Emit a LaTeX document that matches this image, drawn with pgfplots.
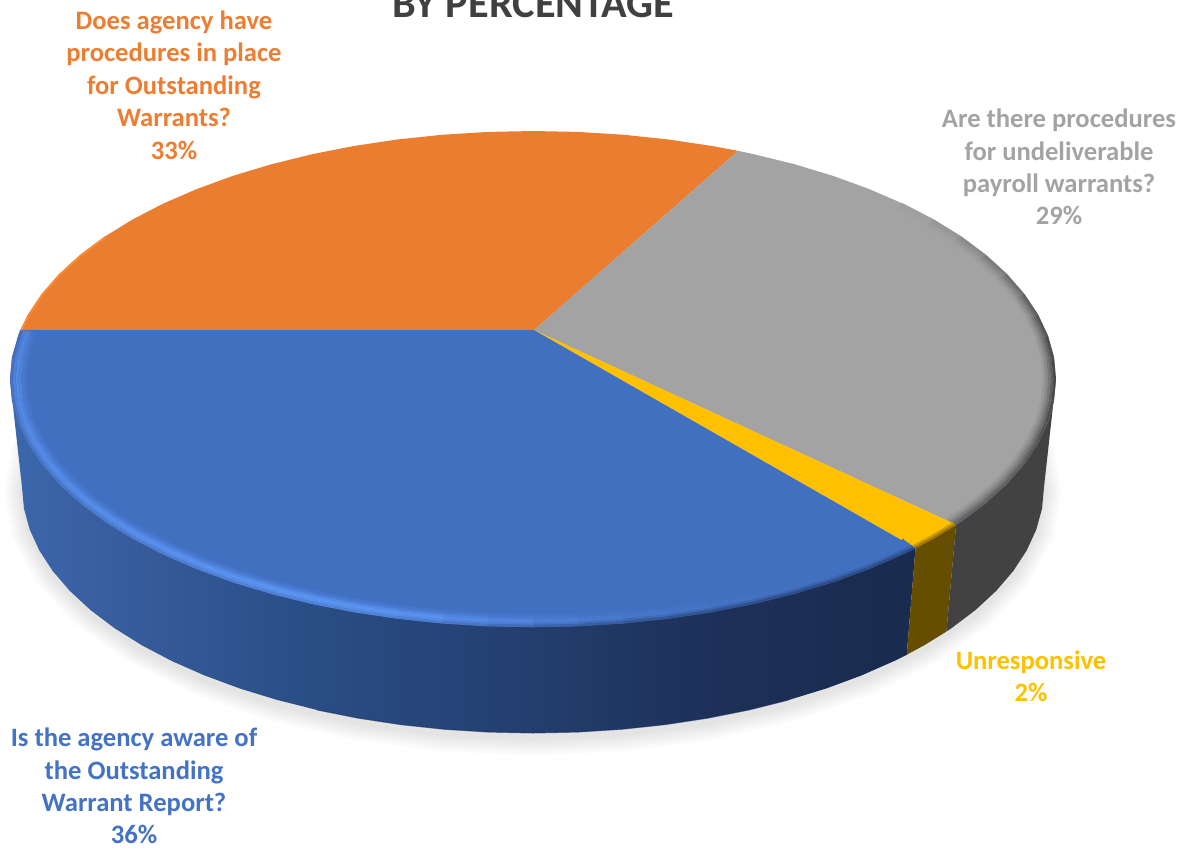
\documentclass[border=0pt]{standalone}
\usepackage{fontspec}
\usepackage{pgfplots}
\usepackage{pgfplotstable}
\pgfplotsset{compat=1.18}
\setmainfont{Carlito}

\definecolor{pieBlue}{RGB}{66,112,192}
\definecolor{pieOrange}{RGB}{235,125,49}
\definecolor{pieGray}{RGB}{163,163,163}
\definecolor{pieYellow}{RGB}{255,192,0}
\definecolor{labelBlue}{RGB}{68,114,196}
\definecolor{labelOrange}{RGB}{237,125,49}
\definecolor{titleGray}{RGB}{64,64,64}

% Side wall of the blue slice darkens from left to right
\pgfdeclarehorizontalshading{blueWall}{100bp}{
  rgb(0bp)=(0.235,0.404,0.675);
  rgb(25bp)=(0.235,0.404,0.675);
  rgb(33bp)=(0.212,0.353,0.596);
  rgb(41bp)=(0.165,0.306,0.529);
  rgb(54bp)=(0.137,0.243,0.431);
  rgb(63bp)=(0.114,0.192,0.353);
  rgb(74bp)=(0.098,0.169,0.306);
  rgb(100bp)=(0.098,0.169,0.306)}

% Slices of the top face: hub, then rim points on the unit ellipse
\pgfplotstableread{
c s
0.0019 -0.1976
-0.9803 -0.1976
-0.9848 -0.1736
-0.9962 -0.0872
-1 0
-0.9962 0.0872
-0.9848 0.1736
-0.9659 0.2588
-0.9397 0.3420
-0.9063 0.4226
-0.8660 0.5
-0.8192 0.5736
-0.7660 0.6428
-0.7071 0.7071
-0.6428 0.7660
-0.5736 0.8192
-0.5 0.8660
-0.4226 0.9063
-0.3420 0.9397
-0.2588 0.9659
-0.1736 0.9848
-0.0872 0.9962
0 1
0.0872 0.9962
0.1736 0.9848
0.2588 0.9659
0.3420 0.9397
0.4226 0.9063
0.5 0.8660
0.5736 0.8192
0.6428 0.7660
0.7071 0.7071
0.7314 0.6820
}\sliceBlue

\pgfplotstableread{
c s
0.0019 -0.1976
0.7314 0.6820
0.7660 0.6428
0.8090 0.5878
}\sliceYellow

\pgfplotstableread{
c s
0.0019 -0.1976
0.8090 0.5878
0.8192 0.5736
0.8660 0.5
0.9063 0.4226
0.9397 0.3420
0.9659 0.2588
0.9848 0.1736
0.9962 0.0872
1 0
0.9962 -0.0872
0.9848 -0.1736
0.9659 -0.2588
0.9397 -0.3420
0.9063 -0.4226
0.8660 -0.5
0.8192 -0.5736
0.7660 -0.6428
0.7071 -0.7071
0.6428 -0.7660
0.5736 -0.8192
0.5 -0.8660
0.4226 -0.9063
0.3923 -0.9198
}\sliceGray

\pgfplotstableread{
c s
0.0019 -0.1976
0.3923 -0.9198
0.3420 -0.9397
0.2588 -0.9659
0.1736 -0.9848
0.0872 -0.9962
0 -1
-0.0872 -0.9962
-0.1736 -0.9848
-0.2588 -0.9659
-0.3420 -0.9397
-0.4226 -0.9063
-0.5 -0.8660
-0.5736 -0.8192
-0.6428 -0.7660
-0.7071 -0.7071
-0.7660 -0.6428
-0.8192 -0.5736
-0.8660 -0.5
-0.9063 -0.4226
-0.9397 -0.3420
-0.9659 -0.2588
-0.9803 -0.1976
}\sliceOrange

% Side walls: b=0 is the top ellipse, b=1 the foot ellipse
\pgfplotstableread{
c s b
-1 0 0
0.7314 0.6820 0
0.7314 0.6820 1
0.7071 0.7071 1
0.6428 0.7660 1
0.5736 0.8192 1
0.5 0.8660 1
0.4226 0.9063 1
0.3420 0.9397 1
0.2588 0.9659 1
0.1736 0.9848 1
0.0872 0.9962 1
0 1 1
-0.0872 0.9962 1
-0.1736 0.9848 1
-0.2588 0.9659 1
-0.3420 0.9397 1
-0.4226 0.9063 1
-0.5 0.8660 1
-0.5736 0.8192 1
-0.6428 0.7660 1
-0.7071 0.7071 1
-0.7660 0.6428 1
-0.8192 0.5736 1
-0.8660 0.5 1
-0.9063 0.4226 1
-0.9397 0.3420 1
-0.9659 0.2588 1
-0.9848 0.1736 1
-0.9962 0.0872 1
-1 0 1
}\wallBlue

\pgfplotstableread{
c s b
0.7314 0.6820 0
0.8090 0.5878 0
0.8090 0.5878 1
0.7660 0.6428 1
0.7314 0.6820 1
}\wallYellow

\pgfplotstableread{
c s b
1 0 0
0.8090 0.5878 0
0.8090 0.5878 1
0.8192 0.5736 1
0.8660 0.5 1
0.9063 0.4226 1
0.9397 0.3420 1
0.9659 0.2588 1
0.9848 0.1736 1
0.9962 0.0872 1
1 0 1
}\wallGray

% Bevel along the rim; h is the strength of the bevel at that point
\pgfplotstableread{
c s h
-0.9803 -0.1976 0.60
-0.9962 -0.0872 0.65
-1 0 0.70
-0.9962 0.0872 0.72
-0.9848 0.1736 0.74
-0.9659 0.2588 0.76
-0.9397 0.3420 0.78
-0.9063 0.4226 0.80
-0.8660 0.5 0.82
-0.8192 0.5736 0.85
-0.7660 0.6428 0.88
-0.7071 0.7071 0.91
-0.6428 0.7660 0.94
-0.5736 0.8192 0.97
-0.5 0.8660 1
-0.4226 0.9063 1
-0.3420 0.9397 1
-0.2588 0.9659 1
-0.1736 0.9848 0.85
-0.0872 0.9962 0.70
0 1 0.50
0.0872 0.9962 0.35
0.1736 0.9848 0.25
0.2588 0.9659 0.15
0.3420 0.9397 0.10
0.4226 0.9063 0.05
0.5 0.8660 0
0.5736 0.8192 0
0.6428 0.7660 0
0.7071 0.7071 0
0.7314 0.6820 0
}\rimBlue

\pgfplotstableread{
c s h
0.8090 0.5878 0.70
0.8660 0.5 0.70
0.9063 0.4226 0.72
0.9397 0.3420 0.75
0.9659 0.2588 0.82
0.9848 0.1736 0.90
0.9962 0.0872 0.96
1 0 1
0.9962 -0.0872 1
0.9848 -0.1736 0.90
0.9659 -0.2588 0.80
0.9397 -0.3420 0.65
0.9063 -0.4226 0.50
0.8660 -0.5 0.35
0.8192 -0.5736 0.20
0.7660 -0.6428 0.08
0.7071 -0.7071 0
}\rimGray

\pgfplotstableread{
c s
0.7314 0.6820
0.7660 0.6428
0.8090 0.5878
}\rimYellow

\pgfplotstableread{
c s
-0.9803 -0.1976
-0.9659 -0.2588
-0.9397 -0.3420
-0.9063 -0.4226
-0.8660 -0.5
-0.8192 -0.5736
}\rimOrange

% Lower edge of the blue wall
\pgfplotstableread{
c s b
0.5 0.8660 1
0.4226 0.9063 1
0.3420 0.9397 1
0.2588 0.9659 1
0.1736 0.9848 1
0.0872 0.9962 1
0 1 1
-0.0872 0.9962 1
-0.1736 0.9848 1
-0.2588 0.9659 1
-0.3420 0.9397 1
-0.4226 0.9063 1
}\footEdge

% Whole ellipse, used for the soft shadow under the pie
\pgfplotstableread{
c s
1 0
0.9848 0.1736
0.9397 0.3420
0.8660 0.5
0.7660 0.6428
0.6428 0.7660
0.5 0.8660
0.3420 0.9397
0.1736 0.9848
0 1
-0.1736 0.9848
-0.3420 0.9397
-0.5 0.8660
-0.6428 0.7660
-0.7660 0.6428
-0.8660 0.5
-0.9397 0.3420
-0.9848 0.1736
-1 0
-0.9848 -0.1736
-0.9397 -0.3420
-0.8660 -0.5
-0.7660 -0.6428
-0.6428 -0.7660
-0.5 -0.8660
-0.3420 -0.9397
-0.1736 -0.9848
0 -1
0.1736 -0.9848
0.3420 -0.9397
0.5 -0.8660
0.6428 -0.7660
0.7660 -0.6428
0.8660 -0.5
0.9397 -0.3420
0.9848 -0.1736
}\wholeEllipse

\pgfplotsset{
  table/top/.style={x expr=533+523*\thisrow{c}, y expr=379+248*\thisrow{s}},
  table/wall/.style={x expr=533+(523-12*\thisrow{b})*\thisrow{c},
                     y expr=379+108*\thisrow{b}+(248-2*\thisrow{b})*\thisrow{s}},
  table/inset/.style={x expr=533+(523-1.3*#1)*\thisrow{c},
                      y expr=379+(248-#1)*\thisrow{s}},
  colormap={bb0}{rgb255=(46,78,136) rgb255=(80,130,215)},
  colormap={bb1}{rgb255=(58,98,170) rgb255=(88,143,235)},
  colormap={bb2}{rgb255=(66,112,192) rgb255=(92,148,242)},
  colormap={bb3}{rgb255=(66,112,192) rgb255=(84,138,232)},
  colormap={bb4}{rgb255=(66,112,192) rgb255=(76,126,215)},
  colormap={bb5}{rgb255=(66,112,192) rgb255=(70,118,203)},
  colormap={gg0}{rgb255=(163,163,163) rgb255=(72,72,72)},
  colormap={gg1}{rgb255=(163,163,163) rgb255=(95,95,95)},
  colormap={gg2}{rgb255=(163,163,163) rgb255=(118,118,118)},
  colormap={gg3}{rgb255=(163,163,163) rgb255=(138,138,138)},
  colormap={gg4}{rgb255=(163,163,163) rgb255=(153,153,153)},
}

% One stroke of a bevel: rim table, inset in pixels, colormap
\newcommand{\bevel}[3]{%
  \addplot[mesh, colormap name=#3, line width=2.6pt,
           point meta=\thisrow{h}] table[inset=#2] {#1};}

\begin{document}
\begin{tikzpicture}
\path[use as bounding box, clip] (0,0) rectangle (1191pt,849pt);
\begin{axis}[
  at={(0,0)}, anchor=south west,
  width=1191pt, height=849pt, scale only axis,
  xmin=0, xmax=1191, ymin=0, ymax=849, y dir=reverse,
  hide axis, clip=false, no markers,
  point meta min=0, point meta max=1,
]
  % soft shadow
  \pgfplotsinvokeforeach{18,16,14,12,10,8,6,4,2}{
    \addplot[draw=none, fill=black, fill opacity=0.012]
      table[x expr=533+(511+#1)*\thisrow{c}, y expr=492+(246+#1)*\thisrow{s}] {\wholeEllipse};
  }

  % side walls
  \addplot[draw=none, shading=blueWall] table[wall] {\wallBlue};
  \addplot[draw=none, fill={rgb,255:red,102;green,78;blue,0}] table[wall] {\wallYellow};
  \addplot[draw=none, fill={rgb,255:red,66;green,66;blue,66}] table[wall] {\wallGray};
  \addplot[draw={rgb,255:red,24;green,42;blue,90}, line width=1pt, opacity=0.55] table[wall] {\footEdge};

  % top face
  \addplot[draw=none, fill=pieOrange] table[top] {\sliceOrange};
  \addplot[draw=none, fill=pieGray] table[top] {\sliceGray};
  \addplot[draw=none, fill=pieYellow] table[top] {\sliceYellow};
  \addplot[draw=none, fill=pieBlue] table[top] {\sliceBlue};

  % bevels along the rim
  \bevel{\rimBlue}{12}{bb5}
  \bevel{\rimBlue}{9.8}{bb4}
  \bevel{\rimBlue}{7.6}{bb3}
  \bevel{\rimBlue}{5.4}{bb2}
  \bevel{\rimBlue}{3.2}{bb1}
  \bevel{\rimBlue}{1}{bb0}
  \bevel{\rimGray}{9}{gg4}
  \bevel{\rimGray}{7}{gg3}
  \bevel{\rimGray}{5}{gg2}
  \bevel{\rimGray}{3}{gg1}
  \bevel{\rimGray}{1}{gg0}
  \addplot[draw={rgb,255:red,205;green,155;blue,5}, line width=2.4pt] table[inset=2.6] {\rimYellow};
  \addplot[draw={rgb,255:red,160;green,120;blue,5}, line width=2pt] table[inset=0.8] {\rimYellow};
  \addplot[draw={rgb,255:red,252;green,138;blue,50}, line width=2pt] table[inset=0.8] {\rimOrange};

  % title, cut by the top edge of the page
  \node[text=titleGray, font=\fontsize{42.3}{46}\selectfont\bfseries, anchor=base]
    at (axis cs:533,17) {BY PERCENTAGE};

  % slice labels
  \node[text=labelOrange, align=center, font=\fontsize{26.6}{32.4}\selectfont\bfseries]
    at (axis cs:174,85) {Does agency have\\procedures in place\\for Outstanding\\Warrants?\\33\%};
  \node[text=pieGray, align=center, font=\fontsize{26.6}{32.4}\selectfont\bfseries]
    at (axis cs:1059,167) {Are there procedures\\for undeliverable\\payroll warrants?\\29\%};
  \node[text=pieYellow, align=center, font=\fontsize{26.6}{32.4}\selectfont\bfseries]
    at (axis cs:1031,676) {Unresponsive\\2\%};
  \node[text=labelBlue, align=center, font=\fontsize{26.6}{32.4}\selectfont\bfseries]
    at (axis cs:134,786) {Is the agency aware of\\the Outstanding\\Warrant Report?\\36\%};
\end{axis}
\end{tikzpicture}
\end{document}
